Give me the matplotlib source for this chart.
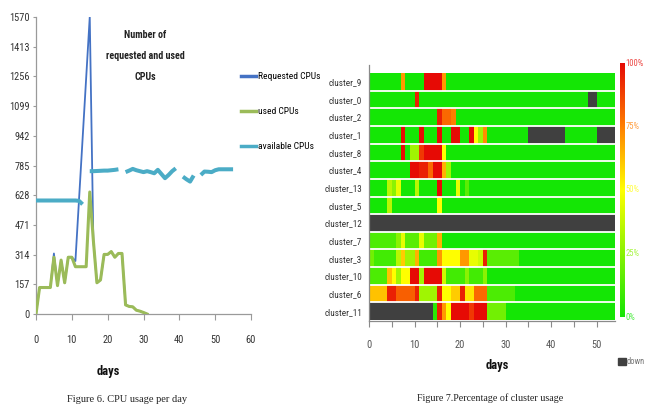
import numpy as np
import matplotlib
matplotlib.use('Agg')
import matplotlib.pyplot as plt
from matplotlib.colors import LinearSegmentedColormap
from matplotlib.lines import Line2D
from matplotlib.patches import Rectangle

NARROW = ['Roboto Condensed', 'Liberation Sans Narrow', 'Liberation Sans', 'DejaVu Sans']
SERIF = ['Liberation Serif', 'DejaVu Serif']
plt.rcParams['font.family'] = NARROW

# ---------------- Figure 6 data ----------------
used_days = [0, 1, 2, 3, 4, 5, 6, 7, 8, 9, 10, 11, 12, 13, 14, 15, 16, 17, 18, 19,
             20, 21, 22, 23, 24, 25, 26, 27, 28, 29, 30, 31]
used_cpus = [0, 140, 140, 140, 140, 300, 150, 285, 165, 300, 300, 250, 250, 250, 250, 645,
             390, 165, 180, 315, 315, 330, 300, 320, 320, 48, 40, 38, 20, 15, 8, 0]
requested_days = [0, 1, 2, 3, 4, 5, 6, 7, 8, 9, 10, 11, 15, 16, 17, 18, 19,
                  20, 21, 22, 23, 24, 25, 26, 27, 28, 29, 30, 31]
requested_cpus = [0, 140, 140, 140, 140, 320, 150, 285, 165, 300, 300, 280, 1570,
                  390, 165, 180, 315, 315, 330, 300, 320, 320, 48, 40, 38, 20, 15, 8, 0]
available_days = list(range(0, 56))
available_cpus = [600, 600, 600, 600, 600, 600, 600, 600, 600, 600, 600, 600, 598, 580, np.nan,
                  755, 755, 756, 757, 758, 758, 760, 762, 765, np.nan,
                  750, 758, 767, 760, 755, 750, 755, 750, 744, 762, 740, 718, 735, 755, 770, np.nan,
                  726, 712, 700, 732, np.nan,
                  735, 753, 752, 750, 760, 765, 765, 765, 765, 765]
y_ticks_left = [0, 157, 314, 471, 628, 785, 942, 1099, 1256, 1413, 1570]
x_ticks_left = [0, 10, 20, 30, 40, 50, 60]

# ---------------- Figure 7 data (fraction used per day, D = down) ----------------
D = np.nan
cluster_names = ['cluster_9', 'cluster_0', 'cluster_2', 'cluster_1', 'cluster_8', 'cluster_4',
                 'cluster_13', 'cluster_5', 'cluster_12', 'cluster_7', 'cluster_3', 'cluster_10',
                 'cluster_6', 'cluster_11']
#              0   1   2   3   4   5   6   7   8   9  10  11  12  13  14  15  16  17  18  19  20  21  22  23  24  25  26  27  28  29  30  31  32  33  34  35  36  37  38  39  40  41  42  43  44  45  46  47  48  49  50  51  52  53
cluster_9 =  [0,  0,  0,  0,  0,  0,  0, .7,  0,  0,  0,  0,  1,  1,  1,  1, .7,  0,  0,  0,  0,  0,  0,  0,  0,  0,  0,  0,  0,  0,  0,  0,  0,  0,  0,  0,  0,  0,  0,  0,  0,  0,  0,  0,  0,  0,  0,  0,  0,  0,  0,  0,  0,  0]
cluster_0 =  [0,  0,  0,  0,  0,  0,  0,  0,  0,  0, .95, 0,  0,  0,  0,  0,  0,  0,  0,  0,  0,  0,  0,  0,  0,  0,  0,  0,  0,  0,  0,  0,  0,  0,  0,  0,  0,  0,  0,  0,  0,  0,  0,  0,  0,  0,  0,  0,  D,  D,  0,  0,  0,  0]
cluster_2 =  [0,  0,  0,  0,  0,  0,  0,  0,  0,  0,  0,  0,  0,  0,  0, .95, .8, .8, .75, 0,  0,  0,  0,  0,  0,  0,  0,  0,  0,  0,  0,  0,  0,  0,  0,  0,  0,  0,  0,  0,  0,  0,  0,  0,  0,  0,  0,  0,  0,  0,  0,  0,  0,  0]
cluster_1 =  [0,  0,  0,  0,  0,  0,  0,  1,  0,  0,  0,  1,  0,  0,  0,  1,  0,  0,  1,  1,  0,  0,  1, .5, .3, .72, 0,  0,  0,  0,  0,  0,  0,  0,  0,  D,  D,  D,  D,  D,  D,  D,  D,  0,  0,  0,  0,  0,  0,  0,  D,  D,  D,  D]
cluster_8 =  [0,  0,  0,  0,  0,  0,  0,  1,  0, .3, .3, .9,  1,  1,  1,  1, .5,  0,  0,  0,  0,  0,  0,  0,  0,  0,  0,  0,  0,  0,  0,  0,  0,  0,  0,  0,  0,  0,  0,  0,  0,  0,  0,  0,  0,  0,  0,  0,  0,  0,  0,  0,  0,  0]
cluster_4 =  [0,  0,  0,  0,  0,  0,  0,  0,  0,  1,  1, .95, .95, .8, 1,  1, .65, .3, 0,  0,  0,  0,  0,  0,  0,  0,  0,  0,  0,  0,  0,  0,  0,  0,  0,  0,  0,  0,  0,  0,  0,  0,  0,  0,  0,  0,  0,  0,  0,  0,  0,  0,  0,  0]
cluster_13 = [0,  0,  0,  0, .35, .25, .45, 0, 0,  0, .35, 0,  0,  0,  0,  1,  0,  0,  0, .45, 0, .15, 0,  0,  0,  0,  0,  0,  0,  0,  0,  0,  0,  0,  0,  0,  0,  0,  0,  0,  0,  0,  0,  0,  0,  0,  0,  0,  0,  0,  0,  0,  0,  0]
cluster_5 =  [0,  0,  0,  0, .35, 0,  0,  0,  0,  0,  0,  0,  0,  0,  0, .5,  0,  0,  0,  0,  0,  0,  0,  0,  0,  0,  0,  0,  0,  0,  0,  0,  0,  0,  0,  0,  0,  0,  0,  0,  0,  0,  0,  0,  0,  0,  0,  0,  0,  0,  0,  0,  0,  0]
cluster_12 = [D,  D,  D,  D,  D,  D,  D,  D,  D,  D,  D,  D,  D,  D,  D,  D,  D,  D,  D,  D,  D,  D,  D,  D,  D,  D,  D,  D,  D,  D,  D,  D,  D,  D,  D,  D,  D,  D,  D,  D,  D,  D,  D,  D,  D,  D,  D,  D,  D,  D,  D,  D,  D,  D]
cluster_7 =  [.12, .12, .12, .12, .12, .12, .25, .45, .15, .15, .15, .45, .2, .2, .2, .65, 0, 0, 0, 0, 0, 0, 0, 0, 0, 0, 0, 0, 0, 0, 0, 0, 0, 0, 0, 0, 0, 0, 0, 0, 0, 0, 0, 0, 0, 0, 0, 0, 0, 0, 0, 0, 0, 0]
cluster_3 =  [.2, .1, .1, .1, .1, .1, .35, .6, .3, .3, .65, .1, .1, .1, .1, .7, .5, .5, .5, .5, .7, .7, .45, .45, .4, .95, .15, .15, .15, .15, .15, .15, .15, 0, 0, 0, 0, 0, 0, 0, 0, 0, 0, 0, 0, 0, 0, 0, 0, 0, 0, 0, 0, 0]
cluster_10 = [.12, .12, .12, .12, .62, .5, .3, .5, .5, 1, 1, .3, 1, 1, 1, 1, .4, .1, .1, .1, .1, .25, .1, .1, .1, .25, 0, 0, 0, 0, 0, 0, 0, 0, 0, 0, 0, 0, 0, 0, 0, 0, 0, 0, 0, 0, 0, 0, 0, 0, 0, 0, 0, 0]
cluster_6 =  [.62, .62, .62, .62, .95, .95, .82, .82, .82, .82, .95, .3, .3, .3, .3, .95, .5, .5, .6, .6, .95, .55, .55, .8, .8, .8, .12, .12, .12, .12, .12, .12, 0, 0, 0, 0, 0, 0, 0, 0, 0, 0, 0, 0, 0, 0, 0, 0, 0, 0, 0, 0, 0, 0]
cluster_11 = [D, D, D, D, D, D, D, D, D, D, D, D, D, D, .05, .95, .7, .5, 1, 1, 1, 1, .9, 1, 1, 1, .2, .2, .2, .2, 0, 0, 0, 0, 0, 0, 0, 0, 0, 0, 0, 0, 0, 0, 0, 0, 0, 0, 0, 0, 0, 0, 0, 0]
x_ticks_right = [0, 5, 10, 15, 20, 25, 30, 35, 40, 45, 50]
cbar_labels = ['0%', '25%', '50%', '75%', '100%']
cbar_values = [0, 0.25, 0.5, 0.75, 1.0]

W, H = 645, 408
fig = plt.figure(figsize=(W / 100, H / 100), dpi=100)


def fx(px):
    return px / W


def fy(py):
    return 1 - py / H


# ================= Left chart =================
ax = fig.add_axes([fx(36), fy(314), fx(251) - fx(36), fy(17) - fy(314)])
c_req, c_used, c_av = '#4472C4', '#9BBB59', '#4BACC6'
ax.plot(requested_days, requested_cpus, color=c_req, lw=1.3, zorder=2)
ax.plot(used_days, used_cpus, color=c_used, lw=2.2, zorder=3)
ax.plot(available_days, available_cpus, color=c_av, lw=2.9, zorder=4, solid_capstyle='butt')
ax.set_xlim(0, 60)
ax.set_ylim(0, 1570)
ax.set_yticks(y_ticks_left)
ax.set_xticks(x_ticks_left)
for s in ['top', 'right']:
    ax.spines[s].set_visible(False)
for s in ['left', 'bottom']:
    ax.spines[s].set_color('#9a9a9a')
    ax.spines[s].set_linewidth(0.9)
ax.tick_params(axis='y', length=2.5, width=0.8, color='#9a9a9a', pad=2, labelsize=7.5, labelcolor='#333333')
ax.tick_params(axis='x', length=4, width=0.8, color='#9a9a9a', pad=11, labelsize=7.5, labelcolor='#333333')
ax.patch.set_alpha(0)

handles = [Line2D([], [], color=c_req, lw=2.5), Line2D([], [], color=c_used, lw=2.5),
           Line2D([], [], color=c_av, lw=2.5)]
ax.legend(handles, ['Requested CPUs', 'used CPUs', 'available CPUs'], loc='upper left',
          bbox_to_anchor=(fx(241), fy(72)), bbox_transform=fig.transFigure, frameon=False,
          handlelength=1.6, handletextpad=0.15, labelspacing=2.75, fontsize=6.8,
          borderpad=0, borderaxespad=0)

fig.text(fx(145), fy(56), 'Number of\nrequested and used\nCPUs', ha='center', va='center',
         fontsize=7.2, fontweight='bold', linespacing=2.4, color='#222222')
fig.text(fx(108), fy(371), 'days', ha='center', va='center', fontsize=9, fontweight='bold', color='#111111')
fig.text(fx(127), fy(400), 'Figure 6. CPU usage per day', ha='center', va='center', fontsize=7.5,
         family=SERIF, color='#222222')

# ================= Right chart (heatmap) =================
cmap = LinearSegmentedColormap.from_list('usage', [(0.0, (0.08, 0.90, 0.02)),
                                                   (0.5, (1.0, 1.0, 0.0)),
                                                   (0.75, (1.0, 0.5, 0.0)),
                                                   (1.0, (0.90, 0.04, 0.02))])
cmap.set_bad('#404040')

rows = [cluster_9, cluster_0, cluster_2, cluster_1, cluster_8, cluster_4, cluster_13, cluster_5,
        cluster_12, cluster_7, cluster_3, cluster_10, cluster_6, cluster_11]
data = np.ma.masked_invalid(np.array(rows, dtype=float))

ax2 = fig.add_axes([fx(369), fy(321), fx(615) - fx(369), fy(65) - fy(321)])
ax2.pcolormesh(np.arange(data.shape[1] + 1), np.arange(data.shape[0] + 1), data,
               cmap=cmap, vmin=0, vmax=1, shading='flat')
for yb in range(1, data.shape[0]):
    ax2.axhline(yb, color='white', lw=1.3)
ax2.set_xlim(0, data.shape[1])
ax2.set_ylim(data.shape[0] + 0.05, -0.45)
ax2.set_yticks(np.arange(data.shape[0]) + 0.5)
ax2.set_yticklabels(cluster_names)
ax2.set_xticks(x_ticks_right)
ax2.set_xticklabels([str(t) if t % 10 == 0 else '' for t in x_ticks_right])
for s in ['top', 'right']:
    ax2.spines[s].set_visible(False)
for s in ['left', 'bottom']:
    ax2.spines[s].set_color('#8a8a8a')
    ax2.spines[s].set_linewidth(0.9)
ax2.tick_params(axis='y', length=0, pad=5, labelsize=6.6, labelcolor='#333333')
ax2.tick_params(axis='x', length=4, width=0.8, color='#8a8a8a', pad=10, labelsize=7.5, labelcolor='#555555')

fig.text(fx(497), fy(366), 'days', ha='center', va='center', fontsize=9, fontweight='bold', color='#111111')
fig.text(fx(490), fy(398), 'Figure 7.Percentage of cluster usage', ha='center', va='center', fontsize=7.2,
         family=SERIF, color='#222222')

# colour bar
cax = fig.add_axes([fx(620), fy(317), fx(625) - fx(620), fy(63) - fy(317)])
grad = np.linspace(0, 1, 256).reshape(-1, 1)
cax.imshow(grad, cmap=cmap, aspect='auto', origin='lower', extent=(0, 1, 0, 1), vmin=0, vmax=1)
cax.set_axis_off()
for v, lab in zip(cbar_values, cbar_labels):
    col = cmap(v)
    fig.text(fx(625.5), fy(317) + v * (fy(63) - fy(317)), lab, ha='left', va='center', fontsize=6.2,
             color=col, alpha=0.75)

# down legend
fig.patches.append(Rectangle((fx(618), fy(365)), fx(8), fy(0) - fy(7),
                             transform=fig.transFigure, color='#404040'))
fig.text(fx(626.5), fy(361.5), 'down', ha='left', va='center', fontsize=6.2, color='#777777')

fig.savefig('out.png', dpi=100)
